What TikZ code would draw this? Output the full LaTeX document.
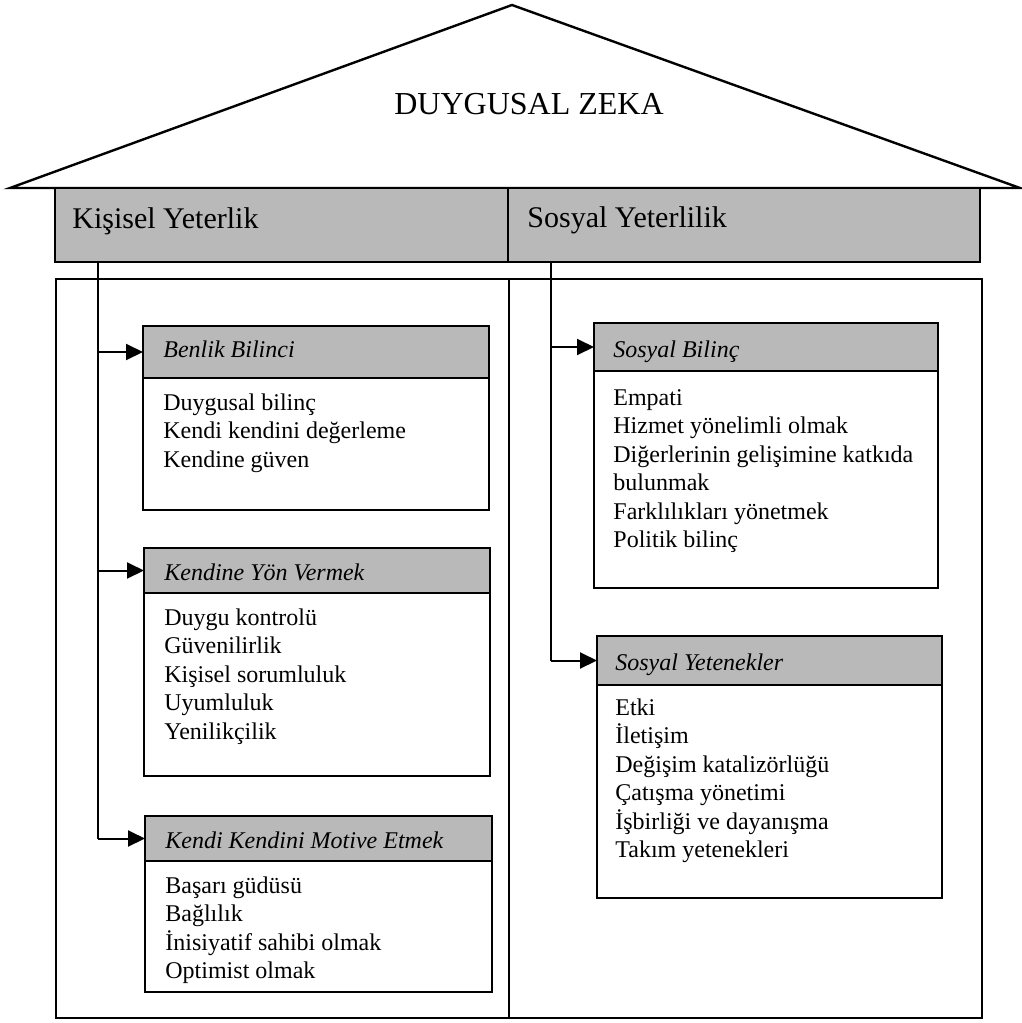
\documentclass[tikz,border=0pt]{standalone}
\usepackage{fontspec}
\setmainfont{Liberation Serif}
\usetikzlibrary{arrows.meta}

\definecolor{bandgray}{HTML}{B9B9B9}

% a list of lines whose baseline is the first line's
\newcommand\linelist[1]{\begin{tabular}[t]{@{}l@{}}#1\end{tabular}}

\tikzset{
  frame/.style={draw=black, line width=1pt, inner sep=0pt, outer sep=0pt,
    anchor=north west},
  band/.style={frame, fill=bandgray, minimum height=37pt},
  head/.style={frame, fill=bandgray},
  bandtext/.style={anchor=base west, inner sep=0pt, font=\fontsize{15}{18}\selectfont},
  headtext/.style={anchor=base west, inner sep=0pt, font=\fontsize{12}{14}\selectfont\itshape},
  items/.style={anchor=base west, inner sep=0pt,
    font=\fontsize{12}{14.25}\selectfont},
  link/.style={line width=1pt},
  arr/.style={line width=1pt, -{Triangle[length=8.5pt,width=8pt]}},
}

\begin{document}
\begin{tikzpicture}[x=0.5pt,y=-0.5pt]
\useasboundingbox (0,0) rectangle (1022,1023);

% roof
\draw[line width=1.2pt, line join=miter] (10,188) -- (512,5) -- (1020,188) -- cycle;
\node[anchor=base, inner sep=0pt, font=\fontsize{16}{19}\selectfont] (title) at (529,114) {DUYGUSAL ZEKA};

% band with the two competence areas
\node[band, minimum width=226.5pt] (kis) at (55,188) {};
\node[band, minimum width=236pt] (sos) at (508,188) {};
\node[bandtext] (kist) at (72,228) {Kişisel Yeterlik};
\node[bandtext] (sost) at (527,227) {Sosyal Yeterlilik};

% lower panels
\node[frame, minimum width=226.5pt, minimum height=369.5pt] (panelL) at (56,279) {};
\node[frame, minimum width=236.5pt, minimum height=369.5pt] (panelR) at (509,279) {};

% left column boxes
\node[frame, minimum width=173pt, minimum height=92pt] (b1) at (143,326) {};
\node[head, minimum width=173pt, minimum height=26pt] (b1h) at (143,326) {};
\node[headtext] (b1t) at (163,357) {Benlik Bilinci};
\node[items] (b1i) at (163,410) {\linelist{Duygusal bilinç\\Kendi kendini değerleme\\Kendine güven}};

\node[frame, minimum width=173pt, minimum height=114pt] (b2) at (144,548) {};
\node[head, minimum width=173pt, minimum height=22.5pt] (b2h) at (144,548) {};
\node[headtext] (b2t) at (164,580) {Kendine Yön Vermek};
\node[items] (b2i) at (164,625) {\linelist{Duygu kontrolü\\Güvenilirlik\\Kişisel sorumluluk\\Uyumluluk\\Yenilikçilik}};

\node[frame, minimum width=173.5pt, minimum height=88pt] (b3) at (145,816) {};
\node[head, minimum width=173.5pt, minimum height=22.5pt] (b3h) at (145,816) {};
\node[headtext] (b3t) at (165,848) {Kendi Kendini Motive Etmek};
\node[items] (b3i) at (165,893) {\linelist{Başarı güdüsü\\Bağlılık\\İnisiyatif sahibi olmak\\Optimist olmak}};

% right column boxes
\node[frame, minimum width=172pt, minimum height=132.5pt] (s1) at (594,323) {};
\node[head, minimum width=172pt, minimum height=24pt] (s1h) at (594,323) {};
\node[headtext] (s1t) at (613,357) {Sosyal Bilinç};
\node[items] (s1i) at (613,405) {\linelist{Empati\\Hizmet yönelimli olmak\\Diğerlerinin gelişimine katkıda\\bulunmak\\Farklılıkları yönetmek\\Politik bilinç}};

\node[frame, minimum width=172.5pt, minimum height=131pt] (s2) at (597,636) {};
\node[head, minimum width=172.5pt, minimum height=24.5pt] (s2h) at (597,636) {};
\node[headtext] (s2t) at (615,670) {Sosyal Yetenekler};
\node[items] (s2i) at (615,715) {\linelist{Etki\\İletişim\\Değişim katalizörlüğü\\Çatışma yönetimi\\İşbirliği ve dayanışma\\Takım yetenekleri}};

% connectors from the band down to the boxes
\coordinate (ls) at (98,262);
\coordinate (rs) at (551,262);
\draw[link] (ls) -- (b3h.west -| ls);
\draw[arr] (b1h.west -| ls) -- (b1h.west);
\draw[arr] (b2h.west -| ls) -- (b2h.west);
\draw[arr] (b3h.west -| ls) -- (b3h.west);

\draw[link] (rs) -- (s2h.west -| rs);
\draw[arr] (s1h.west -| rs) -- (s1h.west);
\draw[arr] (s2h.west -| rs) -- (s2h.west);
\end{tikzpicture}
\end{document}
